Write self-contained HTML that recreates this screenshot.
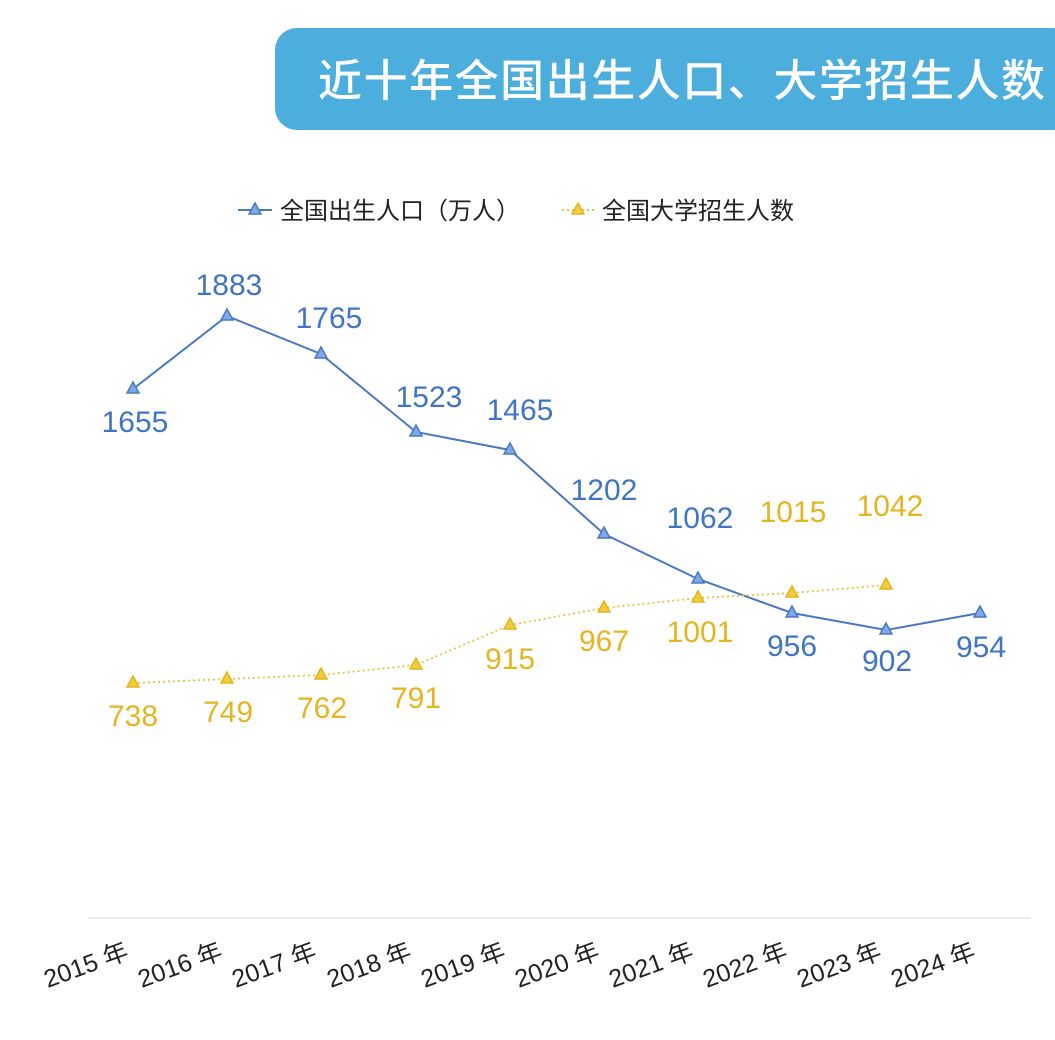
<!DOCTYPE html>
<html><head><meta charset="utf-8"><style>
html,body{margin:0;padding:0;background:#fff;width:1055px;height:1040px;overflow:hidden}
text{font-family:"Liberation Sans","Noto Sans CJK SC",sans-serif}
</style></head><body>
<svg width="1055" height="1040" viewBox="0 0 1055 1040" xmlns="http://www.w3.org/2000/svg">
<rect x="0" y="0" width="1055" height="1040" fill="#fff"/>
<rect x="275" y="28" width="800" height="102" rx="22" fill="#4caedc"/>
<text x="318" y="96" font-size="44" fill="#fff" font-weight="500" textLength="727" lengthAdjust="spacing">近十年全国出生人口、大学招生人数</text>

<line x1="238" y1="210" x2="272" y2="210" stroke="#4a78c0" stroke-width="2"/>
<polygon points="255,203 261,214 249,214" fill="#7fa8e8" stroke="#4a78c0" stroke-width="1.5"/>
<text x="280" y="219" font-size="24" fill="#222">全国出生人口（万人）</text>
<line x1="562" y1="210" x2="594" y2="210" stroke="#e8c040" stroke-width="2" stroke-dasharray="2,3"/>
<polygon points="578,203 584,214 572,214" fill="#f2cc3a" stroke="#e3b520" stroke-width="1.5"/>
<text x="602" y="219" font-size="24" fill="#222">全国大学招生人数</text>

<line x1="88" y1="918" x2="1030" y2="918" stroke="#e6e6e6" stroke-width="1.5"/>

<polyline fill="none" stroke="#4a78c0" stroke-width="2" points="133,389 227,316 321,354 416,432 510,450 604,534 698,579 792,613 886,630 980,613"/>
<polyline fill="none" stroke="#e8c040" stroke-width="1.8" stroke-dasharray="2,3" points="133,683 227,679 321,675 416,665 510,625 604,608 698,598 792,593 886,585"/>

<g fill="#7fa8e8" stroke="#4a78c0" stroke-width="1.5">
<polygon points="133,382 139,393 127,393"/><polygon points="227,309 233,320 221,320"/><polygon points="321,347 327,358 315,358"/><polygon points="416,425 422,436 410,436"/><polygon points="510,443 516,454 504,454"/><polygon points="604,527 610,538 598,538"/><polygon points="698,572 704,583 692,583"/><polygon points="792,606 798,617 786,617"/><polygon points="886,623 892,634 880,634"/><polygon points="980,606 986,617 974,617"/>
</g>
<g fill="#f2cc3a" stroke="#e3b520" stroke-width="1.5">
<polygon points="133,676 139,687 127,687"/><polygon points="227,672 233,683 221,683"/><polygon points="321,668 327,679 315,679"/><polygon points="416,658 422,669 410,669"/><polygon points="510,618 516,629 504,629"/><polygon points="604,601 610,612 598,612"/><polygon points="698,591 704,602 692,602"/><polygon points="792,586 798,597 786,597"/><polygon points="886,578 892,589 880,589"/>
</g>

<g font-size="30" fill="#3f75c2" text-anchor="middle">
<text x="135" y="432">1655</text><text x="229" y="295">1883</text><text x="329" y="328">1765</text><text x="429" y="407">1523</text><text x="520" y="420">1465</text><text x="604" y="500">1202</text><text x="700" y="528">1062</text><text x="792" y="656">956</text><text x="887" y="671">902</text><text x="981" y="657">954</text>
</g>
<g font-size="30" fill="#e3b520" text-anchor="middle">
<text x="133" y="726">738</text><text x="228" y="722">749</text><text x="322" y="718">762</text><text x="416" y="708">791</text><text x="510" y="669">915</text><text x="604" y="651">967</text><text x="700" y="642">1001</text><text x="793" y="522">1015</text><text x="890" y="516">1042</text>
</g>

<g font-size="25" fill="#222" text-anchor="end">
<text transform="translate(130,958) rotate(-20)">2015 年</text>
<text transform="translate(224,958) rotate(-20)">2016 年</text>
<text transform="translate(318,958) rotate(-20)">2017 年</text>
<text transform="translate(413,958) rotate(-20)">2018 年</text>
<text transform="translate(507,958) rotate(-20)">2019 年</text>
<text transform="translate(601,958) rotate(-20)">2020 年</text>
<text transform="translate(695,958) rotate(-20)">2021 年</text>
<text transform="translate(789,958) rotate(-20)">2022 年</text>
<text transform="translate(883,958) rotate(-20)">2023 年</text>
<text transform="translate(977,958) rotate(-20)">2024 年</text>
</g>
</svg>
</body></html>
